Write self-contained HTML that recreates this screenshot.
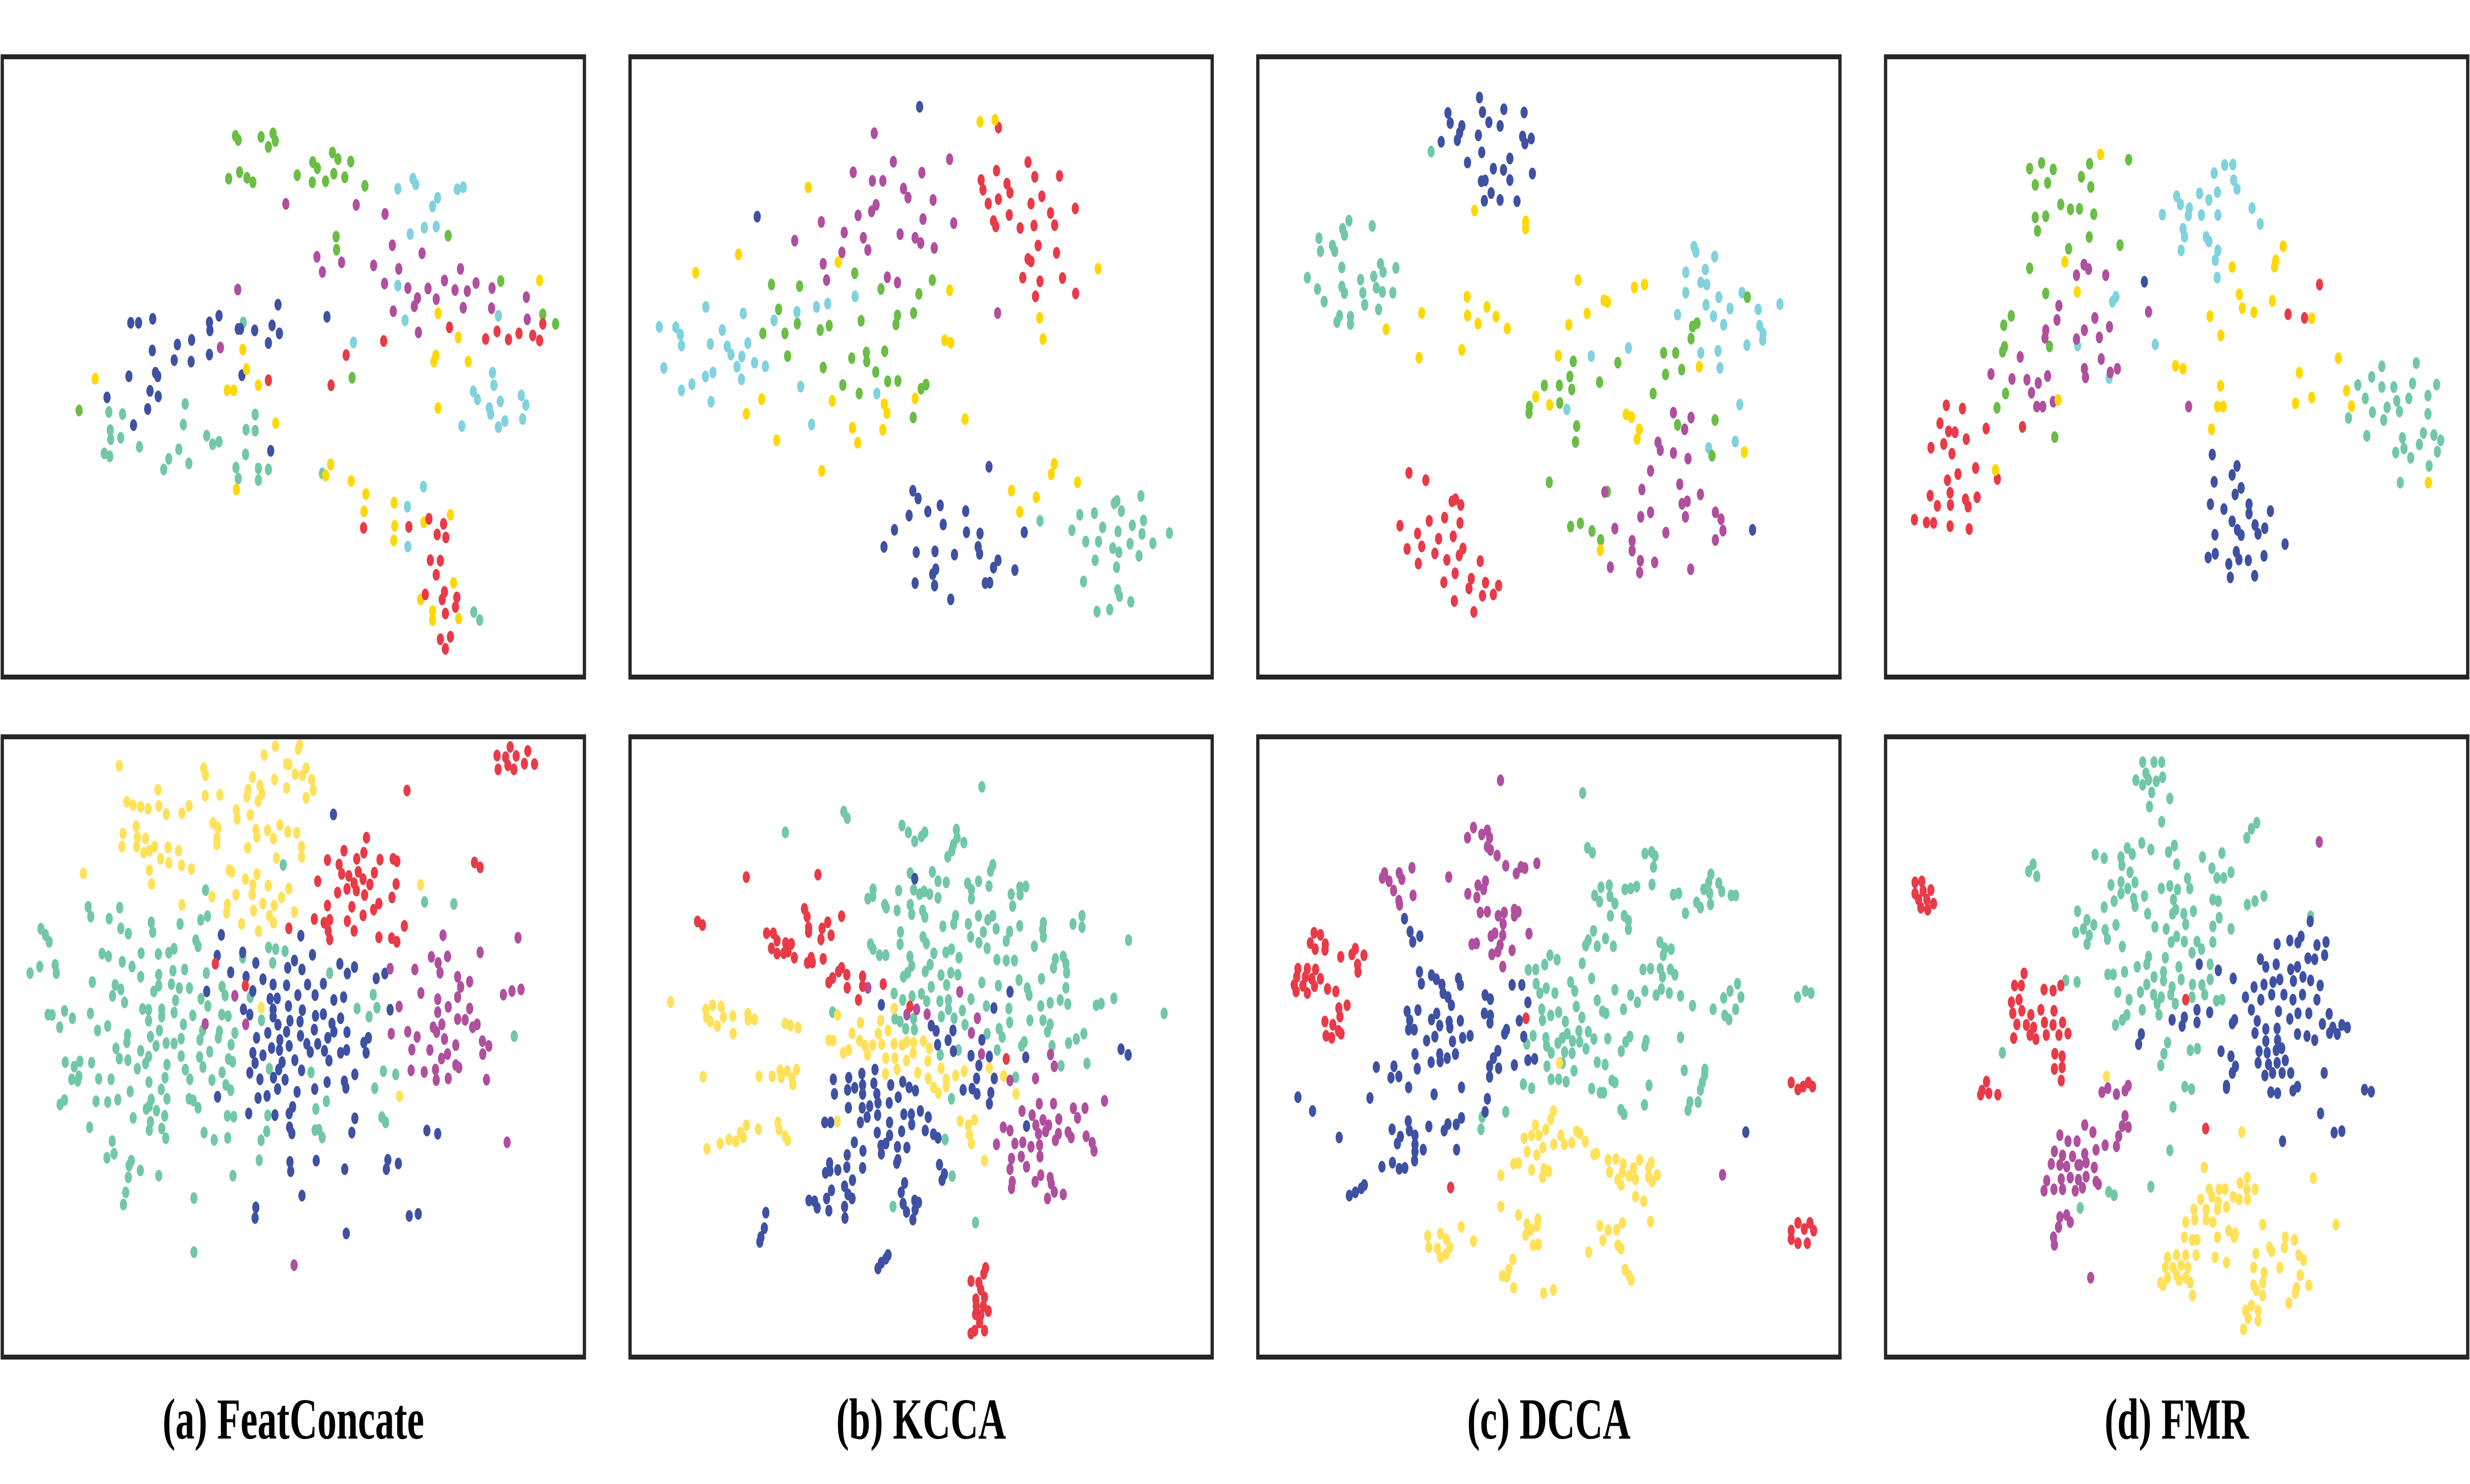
<!DOCTYPE html>
<html><head><meta charset="utf-8">
<style>
html,body{margin:0;padding:0;background:#fff;width:100%;height:100%;overflow:hidden;}
svg{display:block;width:100vw;height:100vh;}
</style></head>
<body>
<svg id="fig" viewBox="0 0 7578 3005" preserveAspectRatio="none" xmlns="http://www.w3.org/2000/svg">
<rect x="0" y="0" width="7578" height="3005" fill="#fff"/>
</svg>
<script>
// ---- Panel (a) top ----
const aTopGreen=[[515,270],[521,278],[571,272],[597,265],[602,280],[587,292],[500,355],[524,342],[540,353],[553,362],[650,348],[684,322],[694,334],[727,303],[739,316],[767,321],[683,362],[712,360],[730,345],[754,352],[798,369],[735,470],[736,496],[980,468],[770,750],[1095,558],[1187,624],[1215,643],[173,815]];
const aTopCyan=[[870,375],[903,355],[909,366],[946,410],[957,393],[1000,376],[1013,372],[897,465],[928,452],[954,450],[870,567],[886,636],[1090,627],[773,680],[1077,740],[1080,765],[1035,777],[1044,793],[1070,810],[1073,822],[1094,797],[1090,848],[1104,836],[1140,785],[1150,804],[1143,832],[1010,846],[926,966],[891,1006],[892,1085]];
const aTopPurple=[[625,405],[779,407],[842,425],[858,487],[923,503],[693,510],[705,540],[747,521],[817,527],[872,534],[841,563],[892,572],[913,592],[906,608],[936,573],[954,594],[972,557],[995,576],[1007,534],[1022,578],[1041,562],[1076,572],[1013,611],[1075,612],[1151,590],[1153,634],[860,618],[915,660],[520,575],[482,690]];
const aTopBlue=[[286,641],[303,641],[334,633],[333,696],[388,684],[419,675],[381,715],[418,718],[458,640],[459,656],[479,627],[458,704],[521,653],[526,653],[557,656],[595,646],[611,662],[587,681],[608,605],[715,629],[282,747],[340,740],[345,747],[328,776],[346,787],[323,812],[292,844],[234,789],[529,745],[592,895]];
const aTopTeal=[[532,640],[238,818],[268,822],[241,854],[242,872],[264,869],[305,887],[228,900],[240,906],[405,802],[401,843],[391,892],[369,911],[358,932],[413,920],[452,865],[465,882],[479,877],[558,823],[538,853],[558,855],[537,902],[516,928],[521,950],[565,930],[565,953],[587,932],[705,940],[1036,1215],[1049,1231]];
const aTopYellow=[[208,752],[531,694],[539,733],[565,765],[497,775],[511,775],[603,840],[517,972],[958,622],[1180,557],[1002,670],[953,706],[949,718],[1024,718],[958,810],[723,922],[712,944],[768,955],[800,981],[796,1015],[862,998],[863,1044],[861,1073],[927,1037],[985,1022],[992,1157],[920,1190],[946,1213],[946,1231],[1003,1228]];
const aTopRed=[[587,755],[757,705],[724,765],[839,677],[983,650],[1062,673],[1087,658],[1112,674],[1135,662],[1165,666],[1180,676],[1187,643],[795,1048],[894,1046],[938,1030],[970,1040],[956,1061],[975,1067],[941,1112],[963,1113],[954,1141],[930,1180],[972,1175],[967,1190],[999,1186],[996,1205],[974,1218],[963,1269],[985,1264],[974,1288]];
// ---- Panel (b) top ----
const bTopBlue=[[780,143],[347,413],[965,1028],[762,1087],[776,1106],[802,1138],[835,1123],[752,1148],[843,1170],[903,1137],[713,1183],[905,1189],[941,1192],[685,1225],[771,1238],[821,1236],[873,1244],[936,1225],[940,1242],[989,1258],[977,1276],[1034,1282],[1059,1189],[823,1280],[815,1292],[768,1314],[820,1320],[955,1314],[967,1313],[863,1354]];
const bTopYellow=[[941,180],[981,175],[483,341],[297,506],[183,551],[563,525],[860,594],[1256,541],[1100,662],[1109,714],[847,717],[863,723],[359,862],[318,898],[547,866],[686,874],[693,896],[768,860],[901,911],[601,932],[682,937],[615,969],[399,963],[519,1038],[1139,1021],[1131,1046],[1201,1066],[1025,1087],[1091,1103],[1047,1139]];
const bTopRed=[[990,194],[1069,279],[985,300],[1087,315],[1153,313],[944,323],[949,347],[1013,332],[1021,354],[990,370],[1106,363],[963,381],[1077,381],[1195,393],[1019,409],[1129,404],[977,424],[983,437],[1048,441],[1085,435],[1140,434],[1096,484],[1145,502],[1069,517],[1077,523],[1055,563],[1101,572],[1161,564],[1089,609],[1196,602]];
const bTopPurple=[[659,208],[710,278],[860,272],[603,304],[786,305],[654,325],[682,325],[737,344],[749,366],[816,372],[664,384],[652,400],[616,410],[789,419],[871,429],[518,426],[447,472],[579,452],[630,465],[728,456],[768,465],[783,478],[819,490],[642,495],[573,501],[523,529],[532,569],[694,562],[721,575],[988,650]];
const bTopGreen=[[607,552],[385,580],[460,584],[677,591],[814,569],[778,603],[404,641],[454,676],[362,700],[421,700],[515,692],[539,681],[624,669],[721,656],[717,678],[764,650],[428,756],[523,784],[599,761],[638,747],[639,769],[687,744],[663,795],[575,827],[619,848],[695,818],[722,817],[784,836],[797,826],[763,907]];
const bTopCyan=[[210,635],[310,651],[86,684],[130,685],[142,703],[145,730],[254,692],[222,726],[267,732],[277,752],[306,757],[322,724],[293,782],[340,772],[369,781],[392,668],[453,647],[505,635],[535,627],[608,609],[98,785],[145,840],[173,825],[209,806],[229,796],[224,868],[305,813],[463,831],[492,924],[666,848]];
const bTopTeal=[[1370,1100],[1299,1118],[1306,1112],[1318,1137],[1207,1146],[1246,1142],[1268,1177],[1186,1184],[1223,1212],[1257,1212],[1295,1228],[1309,1187],[1347,1172],[1377,1160],[1373,1193],[1341,1217],[1402,1216],[1446,1191],[1311,1238],[1365,1247],[1248,1258],[1305,1275],[1217,1310],[1308,1331],[1313,1346],[1343,1360],[1253,1384],[1287,1379],[1101,1161]];
// ---- Panel (c) top ----
const cTopBlue=[[599,120],[515,158],[607,156],[664,149],[718,157],[521,183],[552,190],[624,181],[654,190],[546,207],[540,225],[596,213],[497,229],[714,216],[737,221],[720,233],[605,255],[567,280],[680,270],[636,295],[663,298],[740,307],[604,326],[614,324],[680,323],[630,355],[612,374],[654,372],[699,375],[1327,1183]];
const cTopTeal=[[470,253],[251,423],[313,436],[234,443],[239,458],[171,466],[207,484],[213,498],[175,498],[232,538],[335,529],[342,549],[376,539],[140,563],[282,568],[317,560],[232,585],[239,601],[167,591],[288,600],[324,588],[340,598],[368,600],[185,622],[293,630],[330,641],[226,657],[219,672],[255,659],[255,677]];
const cTopYellow=[[586,398],[722,425],[722,442],[350,690],[445,650],[566,610],[567,656],[595,676],[619,635],[643,659],[673,688],[552,741],[438,760],[862,569],[931,619],[940,623],[1012,587],[1039,580],[886,651],[837,679],[809,755],[749,856],[786,876],[990,899],[1004,906],[1025,936],[1019,960],[1185,782],[1305,992],[921,1233]];
const cTopCyan=[[1171,487],[1176,500],[1226,511],[1149,550],[1201,543],[1189,575],[1205,580],[1149,600],[1203,630],[1237,611],[1299,600],[1342,641],[1400,628],[1127,654],[1223,658],[1250,679],[1267,639],[1346,681],[1355,700],[1354,716],[1312,729],[1189,748],[1235,743],[1240,785],[996,736],[897,756],[832,887],[1293,875],[1281,966],[1210,982]];
const cTopGreen=[[1313,611],[1167,683],[1179,675],[1163,713],[1090,748],[1122,748],[1095,801],[1138,789],[1062,848],[968,772],[919,820],[849,769],[840,806],[845,838],[812,828],[772,828],[813,871],[732,880],[731,896],[858,928],[855,967],[1127,925],[1227,913],[1219,1001],[785,1066],[940,1089],[842,1175],[868,1167],[899,1186],[922,1208]];
const cTopPurple=[[1116,895],[1163,907],[1146,936],[1075,968],[1081,987],[1116,994],[1155,1008],[1055,1038],[1133,1071],[1032,1084],[1188,1096],[933,1090],[1139,1119],[1153,1113],[1055,1140],[1029,1151],[1148,1151],[1228,1140],[1243,1157],[1248,1185],[1096,1190],[960,1180],[1006,1210],[1006,1234],[1228,1208],[1028,1259],[1066,1263],[948,1275],[1026,1288],[1162,1280]];
const cTopRed=[[411,1043],[456,1061],[526,1113],[535,1108],[549,1122],[506,1153],[465,1161],[547,1166],[387,1173],[434,1192],[529,1199],[490,1205],[555,1229],[445,1224],[406,1230],[480,1241],[545,1246],[512,1257],[436,1266],[601,1260],[534,1290],[504,1312],[577,1303],[571,1327],[615,1313],[650,1320],[607,1345],[636,1342],[532,1358],[584,1385]];
// ---- Panel (d) top ----
const dTopGreen=[[392,295],[424,281],[455,297],[552,283],[530,315],[555,340],[407,335],[440,330],[475,383],[501,395],[525,394],[563,407],[407,415],[435,412],[413,448],[551,463],[496,492],[633,483],[392,540],[435,602],[656,273],[343,657],[323,680],[325,733],[320,745],[445,732],[328,848],[305,883],[459,955]];
const dTopYellow=[[581,260],[486,524],[519,598],[932,537],[1068,486],[1048,521],[1045,536],[951,604],[959,638],[990,648],[1039,620],[873,658],[902,705],[1144,663],[781,780],[801,787],[901,829],[893,880],[908,880],[877,936],[1111,797],[1101,872],[1144,858],[1215,761],[1237,841],[1250,879],[1455,1067],[301,1036],[468,864]];
const dTopCyan=[[912,286],[934,285],[884,306],[936,323],[945,345],[784,363],[794,383],[818,392],[845,356],[870,372],[893,353],[815,410],[850,409],[894,409],[746,408],[985,392],[1007,431],[801,443],[805,462],[863,463],[870,474],[894,496],[887,520],[796,496],[892,563],[613,622],[622,610],[727,727],[520,730],[604,810]];
const dTopPurple=[[537,531],[549,542],[517,557],[595,557],[470,632],[465,667],[435,692],[433,711],[538,692],[566,662],[605,684],[578,710],[517,714],[583,763],[367,758],[289,800],[345,812],[385,814],[415,822],[440,805],[397,846],[411,880],[427,880],[455,868],[538,787],[541,808],[607,796],[626,787],[709,647],[816,880]];
const dTopBlue=[[698,573],[879,998],[945,1026],[932,1048],[884,1065],[956,1080],[940,1096],[874,1120],[910,1132],[977,1120],[977,1143],[1034,1137],[932,1162],[946,1183],[956,1196],[993,1171],[1019,1179],[1001,1193],[886,1195],[1073,1218],[868,1251],[887,1242],[943,1237],[950,1256],[975,1258],[1017,1247],[923,1267],[927,1300],[992,1296]];
const dTopRed=[[170,877],[213,885],[153,921],[176,941],[193,943],[223,960],[276,934],[373,930],[129,981],[163,972],[185,996],[248,1031],[201,1046],[173,1061],[306,1058],[127,1099],[180,1092],[221,1108],[252,1103],[146,1124],[181,1122],[228,1126],[85,1158],[117,1165],[136,1166],[180,1174],[231,1181],[1165,580],[1081,653],[1125,662]];
const dTopTeal=[[1331,781],[1423,773],[1267,827],[1304,807],[1331,832],[1363,832],[1413,823],[1477,826],[1287,860],[1345,882],[1371,866],[1403,860],[1454,853],[1306,894],[1378,892],[1336,913],[1242,908],[1454,898],[1291,952],[1442,945],[1470,950],[1488,963],[1386,957],[1390,983],[1368,993],[1431,973],[1479,991],[1408,1006],[1457,1026],[1380,1067]];
// ---- Panel (a) bottom ----
const aBotYellow=[[320,91],[545,97],[550,115],[706,65],[736,43],[801,40],[797,50],[766,87],[772,88],[789,112],[808,115],[818,97],[833,126],[837,151],[818,170],[734,125],[766,146],[675,119],[695,140],[663,150],[660,167],[700,160],[690,178],[588,163],[549,165],[423,150],[340,180],[357,188],[377,192],[397,197],[425,190],[445,210],[487,208],[506,190],[632,200],[634,222],[669,212],[570,232],[583,244],[580,270],[580,285],[684,248],[687,266],[715,250],[731,270],[748,237],[769,254],[793,256],[806,290],[806,315],[739,318],[662,293],[330,258],[365,240],[368,267],[366,290],[327,290],[385,305],[400,300],[414,290],[390,270],[450,292],[430,320],[452,330],[478,300],[486,336],[512,345],[400,348],[406,382],[224,356],[613,348],[620,352],[656,370],[687,358],[676,384],[717,386],[772,393],[631,408],[674,408],[567,413],[753,415],[608,432],[606,453],[678,447],[703,430],[733,435],[720,460],[731,477],[787,451],[646,480],[691,498],[487,433],[1123,384],[698,686],[1067,904]];
const aBotRed=[[1327,66],[1362,45],[1350,70],[1378,67],[1409,55],[1400,86],[1427,87],[1330,100],[1356,90],[1372,100],[1087,152],[979,268],[919,300],[875,323],[953,320],[972,305],[1015,322],[1050,320],[1060,326],[906,334],[913,357],[932,362],[957,352],[970,370],[1000,354],[988,383],[946,380],[927,394],[902,403],[952,398],[974,409],[1058,382],[1047,415],[1012,430],[998,445],[849,375],[875,435],[940,438],[970,459],[928,473],[881,470],[866,477],[877,497],[881,518],[946,497],[840,468],[772,491],[1080,485],[1012,513],[1046,515],[1060,524],[1267,329],[1282,341],[576,578],[656,632]];
const aBotPurple=[[1183,508],[1383,514],[1282,550],[1152,561],[1170,576],[1195,560],[1175,600],[1042,590],[1108,592],[1222,610],[1230,635],[1254,622],[1124,650],[1169,665],[1222,660],[1197,684],[1169,697],[1254,688],[1344,654],[1367,645],[1391,641],[1066,683],[1222,714],[1242,716],[1262,734],[1274,727],[1157,734],[1180,727],[1166,746],[1187,763],[1089,745],[1114,758],[1045,750],[1217,778],[1288,768],[1305,780],[1289,800],[1100,789],[1148,790],[1179,811],[1195,800],[1217,827],[1225,833],[1098,840],[1133,844],[1163,838],[1165,864],[1197,860],[1299,863],[1354,1017],[786,1319],[628,657],[657,727],[549,726]];
const aBotBlue=[[891,211],[592,507],[804,509],[581,558],[649,550],[684,576],[617,599],[658,610],[676,645],[703,616],[730,629],[766,631],[769,588],[787,570],[807,592],[835,556],[822,629],[864,627],[908,578],[928,602],[947,586],[1005,614],[1028,602],[553,646],[651,690],[668,703],[722,664],[741,663],[730,690],[730,708],[771,682],[808,692],[796,655],[842,655],[843,706],[864,702],[892,667],[918,660],[910,712],[887,725],[892,745],[927,746],[775,718],[743,728],[716,748],[686,760],[766,745],[802,720],[803,755],[840,740],[876,760],[820,775],[849,775],[867,792],[829,795],[773,780],[748,765],[726,785],[747,790],[703,803],[676,797],[682,822],[668,846],[754,820],[745,838],[788,815],[806,840],[879,816],[910,797],[926,790],[972,772],[984,760],[978,797],[695,862],[731,858],[762,863],[742,886],[714,903],[690,908],[582,905],[794,893],[841,886],[874,869],[920,867],[924,883],[948,850],[665,946],[735,950],[773,946],[782,930],[948,958],[940,993],[774,980],[780,995],[775,1065],[777,1088],[845,1062],[921,1083],[1036,1060],[1032,1083],[1064,1069],[1140,988],[1169,996],[807,1148],[684,1177],[682,1203],[1093,1198],[1117,1193],[925,1241],[1042,691]];
const aBotTeal=[[111,492],[123,507],[133,524],[237,438],[244,462],[293,467],[321,440],[324,491],[344,504],[405,476],[409,500],[482,480],[537,470],[555,461],[550,397],[757,335],[1134,426],[1212,431],[108,585],[82,601],[149,581],[152,601],[274,553],[291,560],[328,573],[354,585],[378,552],[377,610],[424,554],[452,551],[466,541],[463,595],[494,592],[524,520],[530,535],[718,538],[737,542],[762,547],[729,576],[649,563],[552,601],[248,623],[309,630],[302,657],[324,641],[334,673],[412,646],[425,605],[425,632],[459,628],[470,668],[480,638],[507,638],[538,664],[556,682],[594,634],[602,656],[669,660],[881,601],[130,703],[141,704],[174,694],[161,734],[195,712],[243,700],[262,742],[289,731],[382,689],[398,691],[398,718],[433,690],[433,708],[466,698],[427,742],[403,757],[342,752],[340,771],[311,786],[377,792],[398,806],[418,780],[445,773],[466,774],[485,762],[516,705],[491,727],[535,765],[542,742],[587,744],[584,760],[593,703],[610,707],[628,748],[699,717],[618,777],[561,794],[485,805],[534,807],[496,838],[543,832],[447,826],[390,823],[368,836],[320,811],[343,815],[176,820],[215,818],[246,821],[200,831],[212,855],[193,862],[209,866],[265,861],[298,862],[399,869],[442,858],[508,862],[567,864],[594,845],[611,812],[622,819],[604,876],[617,889],[720,836],[831,845],[954,688],[986,708],[1007,686],[997,654],[1024,842],[1057,850],[1001,884],[349,892],[432,887],[405,912],[447,910],[506,910],[517,914],[162,924],[174,913],[258,916],[289,918],[316,912],[392,935],[400,928],[419,939],[441,952],[530,932],[608,952],[625,954],[716,951],[844,935],[872,916],[357,957],[403,967],[400,987],[433,983],[444,1007],[241,980],[546,993],[573,1011],[609,1006],[713,990],[698,1012],[842,987],[852,986],[861,1005],[1020,955],[1030,968],[301,1014],[306,1045],[287,1055],[352,1062],[346,1074],[376,1086],[344,1103],[425,1099],[623,1099],[693,1061],[337,1140],[331,1170],[519,1154],[519,1287],[1373,756]];
// ---- Panel (b) bottom ----
const bBotTeal=[[946,143],[578,204],[587,220],[422,255],[733,238],[750,255],[767,277],[785,265],[794,255],[878,248],[880,268],[870,285],[898,280],[855,315],[866,300],[975,335],[969,350],[755,355],[814,352],[829,375],[851,378],[908,380],[937,375],[965,387],[918,396],[918,418],[1024,407],[1047,390],[1063,388],[1048,408],[1028,436],[642,418],[656,395],[655,412],[687,433],[691,440],[724,398],[764,396],[780,407],[792,400],[807,407],[829,416],[755,433],[759,456],[720,447],[788,447],[794,463],[842,486],[871,480],[876,460],[910,480],[937,460],[962,470],[975,460],[984,492],[950,500],[916,512],[938,526],[960,540],[1020,499],[1011,522],[1047,485],[1110,477],[1108,493],[1110,512],[1086,535],[1189,480],[1213,460],[1213,488],[1337,520],[649,530],[656,542],[673,557],[690,557],[729,500],[728,530],[789,512],[798,528],[818,552],[850,550],[865,542],[885,563],[754,560],[759,583],[737,610],[748,600],[795,597],[808,580],[837,606],[863,600],[882,605],[852,630],[811,635],[785,652],[760,658],[735,667],[712,651],[714,713],[728,720],[743,738],[766,740],[764,713],[799,670],[834,670],[857,667],[857,690],[838,708],[872,712],[894,693],[917,665],[901,728],[946,624],[990,632],[1021,646],[1033,570],[1045,618],[1011,570],[986,568],[1067,638],[1072,655],[1142,566],[1163,560],[1170,578],[1172,600],[1137,588],[1105,615],[1170,637],[1155,667],[1175,677],[1103,682],[1128,674],[1074,717],[1109,717],[1128,727],[1121,745],[1133,780],[1157,829],[1177,773],[1198,763],[1218,750],[1226,823],[1251,680],[1264,676],[1298,663],[1432,700],[992,738],[1000,758],[1020,722],[1018,688],[958,682],[960,750],[987,790],[1052,780],[1059,770],[1036,857],[835,802],[883,790],[865,910],[848,1010],[867,1100],[709,1175],[929,1214],[548,697]];
const bBotRed=[[318,365],[509,359],[188,474],[201,483],[473,443],[480,462],[572,461],[535,476],[520,491],[484,489],[484,500],[372,503],[390,503],[438,529],[400,521],[423,527],[517,518],[544,508],[385,540],[400,553],[418,552],[429,548],[446,563],[491,563],[481,576],[494,575],[523,566],[572,588],[564,597],[586,605],[538,624],[548,613],[587,637],[628,609],[628,633],[683,628],[617,667],[754,683],[1011,812],[917,1358],[938,1362],[943,1379],[951,1340],[956,1326],[930,1403],[953,1398],[931,1420],[950,1420],[963,1432],[929,1440],[943,1442],[940,1460],[917,1487],[927,1480],[953,1480]];
const bBotYellow=[[116,672],[210,690],[228,680],[251,683],[212,710],[222,720],[241,731],[257,709],[282,706],[283,750],[322,701],[323,716],[340,715],[421,725],[436,730],[456,735],[203,856],[352,855],[387,855],[408,840],[411,857],[427,842],[440,860],[452,838],[442,875],[213,1033],[248,1020],[272,1010],[290,1015],[302,993],[318,975],[310,1005],[350,985],[402,968],[405,985],[421,1002],[428,1012],[538,766],[549,767],[561,704],[577,797],[591,790],[600,749],[622,723],[620,767],[641,802],[635,780],[655,778],[670,750],[676,718],[696,742],[712,688],[679,776],[712,775],[733,778],[746,770],[764,772],[790,768],[763,798],[690,810],[714,810],[745,816],[720,838],[689,849],[775,846],[802,817],[806,786],[837,835],[803,860],[817,882],[830,896],[851,862],[851,880],[876,853],[899,842],[966,834],[1004,854],[1037,898],[888,965],[910,975],[926,962],[913,998],[918,1020],[953,1062],[560,966]];
const bBotBlue=[[767,369],[678,679],[1021,647],[978,687],[811,730],[824,743],[869,742],[856,766],[828,777],[870,793],[946,765],[917,804],[966,806],[938,828],[1063,808],[1317,788],[1336,802],[550,862],[553,898],[591,858],[588,888],[607,883],[626,848],[628,876],[628,898],[661,838],[658,872],[666,898],[703,876],[735,868],[752,882],[769,890],[932,860],[979,860],[896,888],[920,885],[933,898],[970,895],[966,922],[669,920],[590,932],[627,932],[647,928],[699,920],[723,906],[738,948],[758,948],[782,940],[803,955],[622,968],[640,955],[668,950],[700,968],[732,990],[759,973],[795,988],[817,997],[829,1006],[527,968],[543,968],[667,993],[700,1000],[606,1017],[629,1038],[677,1025],[690,1020],[721,1028],[746,1030],[678,1045],[722,1060],[719,1068],[587,1048],[540,1068],[541,1087],[529,1092],[562,1085],[586,1078],[628,1080],[601,1110],[580,1125],[545,1135],[532,1155],[485,1160],[500,1162],[507,1178],[538,1185],[589,1145],[600,1155],[580,1175],[581,1203],[740,1117],[731,1140],[736,1168],[745,1188],[767,1160],[777,1165],[768,1183],[762,1207],[833,1072],[846,1095],[840,1110],[370,1190],[366,1228],[357,1250],[354,1262],[669,1327],[678,1313],[690,1303],[696,1294],[1065,977]];
const bBotPurple=[[642,637],[887,647],[746,703],[772,690],[800,702],[934,712],[918,748],[945,800],[1129,801],[1139,830],[1089,860],[1021,865],[1273,915],[1053,940],[1099,922],[1137,922],[1190,933],[1221,933],[1201,957],[1080,950],[1109,962],[1090,975],[1124,975],[1151,960],[1003,980],[1021,988],[1097,996],[1116,990],[1142,1012],[1150,996],[1176,992],[1184,1005],[1224,1002],[1240,1018],[1245,1038],[1034,1020],[1055,1017],[1077,1028],[1100,1024],[985,1022],[1101,1052],[1051,1052],[1025,1057],[1021,1083],[1065,1077],[1103,1098],[1088,1114],[1128,1104],[1131,1119],[1139,1139],[1163,1145],[1121,1155],[1027,1114],[1025,1130]];
// ---- Panel (c) bottom ----
const cBotPurple=[[655,127],[583,243],[567,268],[605,260],[620,250],[626,268],[620,290],[628,298],[646,312],[669,337],[697,356],[710,340],[720,343],[752,331],[346,355],[340,367],[358,375],[385,355],[392,370],[419,342],[517,365],[370,398],[384,423],[386,433],[422,410],[595,385],[615,375],[610,395],[568,406],[592,415],[601,452],[620,450],[649,460],[665,452],[662,480],[692,445],[692,460],[702,450],[731,504],[640,503],[630,510],[661,508],[654,532],[648,548],[632,555],[686,545],[579,530],[591,528],[661,585],[1247,1097]];
const cBotRed=[[158,502],[175,507],[148,527],[188,530],[161,542],[187,544],[229,561],[268,541],[259,555],[291,557],[274,580],[275,598],[115,590],[140,590],[162,592],[112,610],[135,610],[152,615],[175,615],[105,630],[128,632],[159,633],[194,640],[216,646],[110,646],[140,650],[246,680],[224,687],[227,708],[187,720],[208,728],[223,743],[190,755],[205,760],[230,750],[723,712],[522,1128],[1430,870],[1448,887],[1462,880],[1476,870],[1487,880],[1430,1234],[1448,1215],[1465,1230],[1480,1215],[1490,1234],[1430,1255],[1448,1265],[1473,1265]];
const cBotBlue=[[399,467],[414,499],[440,510],[421,524],[439,598],[444,627],[471,606],[484,616],[499,629],[502,650],[515,660],[543,614],[548,630],[524,680],[614,655],[628,665],[612,700],[628,705],[627,723],[686,630],[712,630],[728,673],[406,695],[435,692],[413,717],[410,740],[425,740],[471,715],[485,700],[493,730],[518,720],[520,735],[548,718],[458,767],[480,757],[527,769],[554,760],[574,755],[671,740],[666,750],[705,718],[717,757],[427,800],[493,800],[513,810],[535,800],[470,820],[494,818],[433,836],[324,832],[371,830],[363,858],[384,855],[410,882],[478,899],[551,882],[648,792],[636,810],[626,830],[650,835],[626,856],[692,827],[728,815],[746,812],[115,906],[154,940],[225,1005],[307,908],[620,910],[614,942],[409,965],[412,988],[366,985],[388,1003],[380,1020],[427,1000],[427,1022],[449,1035],[427,1040],[426,1062],[464,978],[505,988],[515,972],[537,973],[551,957],[538,1035],[339,1077],[367,1067],[385,1082],[400,1080],[252,1148],[268,1140],[284,1130],[292,1122],[1309,992]];
const cBotTeal=[[874,158],[887,293],[900,305],[1040,307],[1058,303],[1067,313],[1063,340],[1059,383],[1216,358],[1210,378],[1237,380],[1213,405],[1197,395],[1178,427],[1188,440],[1215,432],[1245,400],[1270,410],[1282,410],[1116,408],[1130,405],[1148,454],[923,390],[945,385],[906,410],[919,425],[947,412],[960,430],[987,395],[1002,393],[1018,388],[948,460],[985,460],[996,472],[996,493],[882,533],[889,520],[903,497],[913,535],[935,516],[956,535],[1080,525],[1093,540],[1110,542],[1089,557],[729,593],[749,592],[773,580],[787,557],[806,568],[873,577],[898,614],[1035,592],[1055,590],[1081,590],[1108,592],[1120,605],[1087,610],[750,627],[760,650],[777,638],[800,650],[842,623],[853,645],[960,642],[1002,655],[1020,673],[1040,645],[1070,655],[1084,640],[1105,650],[1135,657],[1167,681],[1222,690],[1250,662],[1267,645],[1287,627],[1296,660],[1282,690],[1253,705],[1264,715],[1447,660],[1468,645],[1483,650],[765,690],[767,717],[789,705],[810,697],[828,720],[857,683],[872,710],[913,668],[927,695],[936,700],[983,690],[742,755],[725,775],[776,760],[778,780],[790,797],[808,773],[820,760],[833,750],[847,768],[864,743],[866,770],[889,745],[904,763],[883,787],[846,798],[826,795],[941,762],[977,793],[1000,757],[989,770],[1043,767],[1040,780],[1135,759],[779,830],[820,822],[851,841],[913,820],[934,826],[716,874],[738,884],[790,862],[810,862],[830,868],[898,885],[921,895],[930,895],[952,865],[960,870],[1051,877],[1145,840],[1200,838],[1199,852],[1193,870],[1188,888],[1182,918],[1160,918],[1155,938],[976,937],[984,948],[1039,925],[669,942],[606,955],[603,985]];
const cBotYellow=[[812,822],[796,940],[789,960],[748,975],[776,985],[718,1007],[738,1000],[758,1000],[816,1000],[825,1022],[797,1022],[845,1018],[858,990],[866,995],[881,1015],[726,1040],[752,1048],[768,1030],[904,1047],[911,1045],[942,1060],[963,1058],[982,1070],[1026,1060],[1057,1067],[946,1090],[980,1090],[998,1100],[1010,1080],[1015,1108],[1050,1080],[1050,1102],[1060,1113],[1073,1097],[968,1108],[976,1122],[690,1070],[703,1068],[656,1098],[738,1085],[771,1082],[783,1088],[767,1103],[1015,1150],[1037,1162],[656,1175],[703,1196],[755,1206],[726,1218],[736,1232],[753,1222],[722,1245],[742,1270],[756,1268],[920,1222],[942,1233],[965,1232],[980,1215],[928,1258],[890,1287],[968,1270],[976,1278],[1055,1212],[550,1225],[583,1260],[461,1247],[495,1242],[511,1255],[520,1275],[464,1275],[487,1278],[495,1300],[510,1292],[688,1305],[677,1330],[660,1345],[672,1347],[690,1375],[770,1388],[796,1380],[987,1330],[1003,1355],[998,1345]];
// ---- Panel (d) bottom ----
const dBotRed=[[342,378],[357,376],[342,400],[360,395],[377,393],[350,412],[368,412],[383,420],[355,428],[370,432],[583,558],[562,582],[577,582],[627,590],[647,592],[664,582],[555,615],[572,610],[558,637],[578,632],[598,640],[620,630],[649,632],[567,659],[588,660],[604,665],[628,655],[647,660],[668,655],[680,677],[560,686],[596,680],[609,688],[632,680],[660,680],[651,717],[667,722],[650,747],[667,744],[665,770],[500,772],[490,790],[505,795],[525,798],[487,798],[940,610],[984,865]];
const dBotTeal=[[845,140],[870,140],[887,140],[852,162],[830,176],[845,185],[858,175],[875,178],[889,170],[865,200],[905,212],[860,228],[887,258],[1097,260],[1085,272],[1075,290],[603,342],[593,356],[611,366],[740,323],[760,330],[797,328],[811,310],[822,322],[843,300],[863,313],[902,318],[915,305],[920,342],[977,328],[1020,320],[799,344],[817,358],[775,383],[797,377],[812,390],[828,378],[797,400],[825,410],[886,390],[905,385],[922,392],[944,370],[949,390],[998,350],[1009,369],[1024,369],[1040,358],[1000,412],[1012,415],[1076,422],[1093,415],[1113,405],[782,415],[760,427],[828,425],[849,405],[856,440],[872,466],[913,412],[918,432],[936,440],[957,435],[701,435],[722,452],[697,477],[714,470],[737,462],[727,483],[722,500],[762,472],[786,462],[767,490],[800,505],[911,440],[940,461],[897,470],[920,485],[908,496],[937,495],[965,495],[975,510],[1000,496],[1000,465],[1014,448],[1040,470],[1216,445],[858,525],[895,527],[954,517],[994,540],[925,545],[891,555],[854,540],[833,545],[805,555],[768,560],[780,560],[870,565],[854,580],[891,572],[910,585],[930,570],[955,580],[976,581],[994,570],[840,595],[869,600],[886,605],[907,600],[917,618],[954,605],[982,600],[1008,612],[1020,610],[790,595],[815,610],[844,630],[877,618],[810,640],[800,650],[785,660],[881,640],[675,572],[700,575],[535,715],[900,695],[892,717],[885,740],[950,710],[966,707],[938,782],[953,787],[912,822],[905,908],[863,980],[770,990],[782,997],[707,1022]];
const dBotBlue=[[1215,455],[1142,500],[1170,493],[1188,497],[1195,485],[1230,502],[1250,496],[1105,530],[1117,545],[1140,540],[1172,550],[1187,545],[1210,528],[1225,530],[1247,522],[970,540],[1012,552],[1045,568],[1091,585],[1113,580],[1133,575],[1148,570],[1178,573],[1199,565],[1216,572],[1237,582],[1072,605],[1085,630],[1106,610],[1130,600],[1157,600],[1177,610],[1198,600],[1230,610],[1145,633],[1170,648],[1188,637],[1212,637],[1257,638],[1242,658],[1265,665],[1285,660],[1297,665],[1258,676],[1275,678],[1098,652],[1117,668],[1142,667],[1093,676],[1187,678],[1208,682],[1225,690],[1117,692],[1143,690],[1102,712],[1120,715],[1140,710],[1152,706],[1100,735],[1123,738],[1142,735],[1160,730],[1115,760],[1132,755],[1153,755],[1172,755],[1246,755],[1030,780],[1128,793],[1143,795],[1177,790],[1187,782],[1335,788],[1350,792],[1238,835],[1268,873],[1285,870],[1154,890],[910,650],[937,645],[965,630],[993,635],[932,662],[965,655],[1043,657],[1048,650],[842,678],[836,698],[1018,712],[1040,722],[1050,742],[1043,755],[1030,785]];
const dBotPurple=[[1235,298],[813,780],[806,790],[787,797],[768,785],[755,793],[806,840],[800,860],[813,862],[717,858],[735,872],[792,880],[787,900],[662,878],[680,890],[700,890],[742,907],[762,898],[650,910],[668,918],[690,920],[717,915],[706,937],[643,935],[662,937],[677,940],[702,937],[720,932],[738,942],[633,968],[665,965],[685,962],[703,966],[720,960],[742,970],[627,988],[649,985],[668,985],[696,988],[712,982],[747,975],[662,1040],[677,1036],[685,1050],[659,1060],[648,1080],[650,1095],[730,1160]];
const dBotYellow=[[765,762],[1064,872],[981,942],[1222,963],[1076,962],[1060,973],[992,985],[1014,985],[1027,985],[1075,985],[1093,985],[973,1005],[998,1000],[1012,1010],[1045,1000],[1058,1005],[1077,1005],[958,1025],[985,1025],[1010,1025],[1030,1020],[940,1050],[960,1045],[985,1045],[1000,1050],[1110,1055],[1272,1055],[1035,1067],[1050,1072],[937,1080],[955,1085],[965,1085],[1010,1080],[1047,1080],[1160,1080],[1180,1085],[1125,1100],[1095,1112],[1130,1108],[1158,1100],[900,1120],[920,1115],[940,1115],[963,1115],[1005,1120],[1030,1130],[1190,1115],[1200,1125],[895,1140],[912,1140],[930,1135],[945,1140],[1090,1140],[1113,1150],[1148,1140],[900,1160],[920,1155],[940,1160],[1193,1155],[1090,1175],[1110,1170],[885,1170],[890,1175],[925,1165],[950,1170],[1185,1180],[1212,1175],[955,1195],[1096,1185],[1110,1195],[1182,1190],[1168,1210],[1085,1215],[1100,1225],[1072,1225],[1078,1240],[1100,1245],[1068,1262]];

const captions=["(a) FeatConcate","(b) KCCA","(c) DCCA","(d) FMR"];
const captionNames=["caption-featconcate","caption-kcca","caption-dcca","caption-fmr"];

const SVGNS="http://www.w3.org/2000/svg";
const svg=document.getElementById('fig');
const COL={blue:"#3f51a3",teal:"#72c8a6",green:"#6abd45",cyan:"#80d2de",purple:"#b04f9e",red:"#e93a48",yellowT:"#ffd800",yellowB:"#ffe15a"};
const PW=1786, PH=1256, LEFTS=[7,1933,3859,5785], TOPS=[115,1492];
const DOM_STD={x0:8,x1:1560,y0:20,y1:1545};
const DOM_ATOP={x0:5,x1:1278,y0:113,y1:1344};
const DOM_DBOT={x0:277,x1:1563,y0:90,y1:1317};

function makeScale(col,row,dom){
  const L=LEFTS[col],T=TOPS[row];
  return {x:v=>L+(v-dom.x0)/(dom.x1-dom.x0)*PW, y:v=>T+(v-dom.y0)/(dom.y1-dom.y0)*PH};
}
function drawPanel(col,row,dom,series,name){
  const g=document.createElementNS(SVGNS,'g');
  
  
  svg.appendChild(g);
  const sc=makeScale(col,row,dom);
  series.forEach(s=>{
    const sg=document.createElementNS(SVGNS,'g');
    
    
    sg.setAttribute('fill',s.color);
    g.appendChild(sg);
    s.data.forEach(p=>{
      const c=document.createElementNS(SVGNS,'ellipse');
      c.setAttribute('cx',sc.x(p[0]).toFixed(1));
      c.setAttribute('cy',sc.y(p[1]).toFixed(1));
      c.setAttribute('rx',11);
      c.setAttribute('ry',12);
      
      
      sg.appendChild(c);
    });
  });
  const r=document.createElementNS(SVGNS,'rect');
  r.setAttribute('x',LEFTS[col]);r.setAttribute('y',TOPS[row]);
  r.setAttribute('width',PW);r.setAttribute('height',PH);
  r.setAttribute('fill','none');r.setAttribute('stroke','#262626');r.setAttribute('stroke-width',10);
  
  
  g.appendChild(r);
}
const Y0=COL.yellowT, Y1=COL.yellowB;
drawPanel(0,0,DOM_ATOP,[{name:'teal-points',color:COL.teal,data:aTopTeal},{name:'blue-points',color:COL.blue,data:aTopBlue},{name:'green-points',color:COL.green,data:aTopGreen},{name:'cyan-points',color:COL.cyan,data:aTopCyan},{name:'purple-points',color:COL.purple,data:aTopPurple},{name:'yellow-points',color:Y0,data:aTopYellow},{name:'red-points',color:COL.red,data:aTopRed}],'panel-featconcate-top');
drawPanel(1,0,DOM_STD,[{name:'teal-points',color:COL.teal,data:bTopTeal},{name:'cyan-points',color:COL.cyan,data:bTopCyan},{name:'green-points',color:COL.green,data:bTopGreen},{name:'purple-points',color:COL.purple,data:bTopPurple},{name:'red-points',color:COL.red,data:bTopRed},{name:'blue-points',color:COL.blue,data:bTopBlue},{name:'yellow-points',color:Y0,data:bTopYellow}],'panel-kcca-top');
drawPanel(2,0,DOM_STD,[{name:'teal-points',color:COL.teal,data:cTopTeal},{name:'blue-points',color:COL.blue,data:cTopBlue},{name:'cyan-points',color:COL.cyan,data:cTopCyan},{name:'green-points',color:COL.green,data:cTopGreen},{name:'purple-points',color:COL.purple,data:cTopPurple},{name:'red-points',color:COL.red,data:cTopRed},{name:'yellow-points',color:Y0,data:cTopYellow}],'panel-dcca-top');
drawPanel(3,0,DOM_STD,[{name:'green-points',color:COL.green,data:dTopGreen},{name:'cyan-points',color:COL.cyan,data:dTopCyan},{name:'purple-points',color:COL.purple,data:dTopPurple},{name:'teal-points',color:COL.teal,data:dTopTeal},{name:'blue-points',color:COL.blue,data:dTopBlue},{name:'red-points',color:COL.red,data:dTopRed},{name:'yellow-points',color:Y0,data:dTopYellow}],'panel-fmr-top');
drawPanel(0,1,DOM_STD,[{name:'teal-points',color:COL.teal,data:aBotTeal},{name:'yellow-points',color:Y1,data:aBotYellow},{name:'blue-points',color:COL.blue,data:aBotBlue},{name:'purple-points',color:COL.purple,data:aBotPurple},{name:'red-points',color:COL.red,data:aBotRed}],'panel-featconcate-bottom');
drawPanel(1,1,DOM_STD,[{name:'teal-points',color:COL.teal,data:bBotTeal},{name:'yellow-points',color:Y1,data:bBotYellow},{name:'blue-points',color:COL.blue,data:bBotBlue},{name:'purple-points',color:COL.purple,data:bBotPurple},{name:'red-points',color:COL.red,data:bBotRed}],'panel-kcca-bottom');
drawPanel(2,1,DOM_STD,[{name:'teal-points',color:COL.teal,data:cBotTeal},{name:'yellow-points',color:Y1,data:cBotYellow},{name:'blue-points',color:COL.blue,data:cBotBlue},{name:'purple-points',color:COL.purple,data:cBotPurple},{name:'red-points',color:COL.red,data:cBotRed}],'panel-dcca-bottom');
drawPanel(3,1,DOM_DBOT,[{name:'teal-points',color:COL.teal,data:dBotTeal},{name:'yellow-points',color:Y1,data:dBotYellow},{name:'blue-points',color:COL.blue,data:dBotBlue},{name:'purple-points',color:COL.purple,data:dBotPurple},{name:'red-points',color:COL.red,data:dBotRed}],'panel-fmr-bottom');

captions.forEach((t,i)=>{
  const tx=document.createElementNS(SVGNS,'text');
  tx.setAttribute('x',LEFTS[i]+PW/2);
  tx.setAttribute('y',2913);
  tx.setAttribute('text-anchor','middle');
  tx.setAttribute('font-family','"Liberation Serif", serif');
  tx.setAttribute('font-weight','bold');
  tx.setAttribute('font-size','118');
  tx.setAttribute('fill','#000');
  tx.textContent=t;
  
  
  svg.appendChild(tx);
});
</script>
</body></html>
